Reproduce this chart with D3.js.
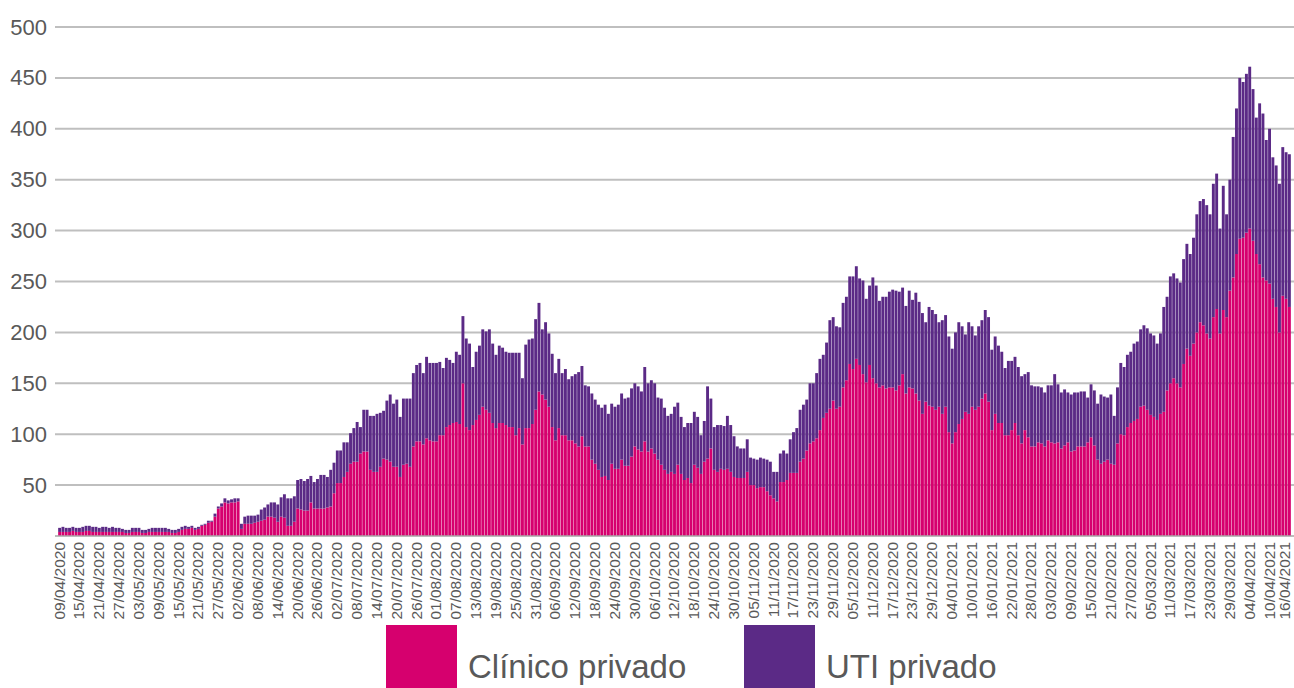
<!DOCTYPE html>
<html>
<head>
<meta charset="utf-8">
<script src="https://cdn.jsdelivr.net/npm/d3@7"></script>
<style>
  html, body { margin: 0; padding: 0; background: #ffffff; }
  svg { display: block; font-family: "Liberation Sans", Arial, sans-serif; }
</style>
</head>
<body>
<svg id="chart" width="1294" height="688"></svg>
<script>
// ---- DATA ----
const firstDay = "09/04/2020";
const dayCount = 373;

const clinicoPrivado = [
  4,4,4,4,5,4,4,4,5,5,4,4,4,4,4,4,4,4,4,4,3,3,4,4,4,3,3,4,4,4,4,4,4,4,3,3,4,6,7,7,8,6,7,
  10,11,13,14,19,27,29,33,32,33,33,34,7,12,12,12,13,14,15,16,19,19,18,14,19,18,10,10,14,27,26,25,
  25,33,27,27,27,27,28,29,42,52,52,58,63,71,73,73,81,83,83,65,63,63,68,76,75,73,68,68,58,70,71,68,88,
  93,93,90,96,94,93,93,99,99,107,109,111,112,110,150,107,104,109,114,119,127,124,121,111,106,111,111,109,107,107,99,
  106,90,106,106,110,124,142,139,134,127,107,94,106,99,99,94,94,91,88,98,88,88,75,71,65,58,59,55,71,66,66,75,
  69,69,78,88,85,83,93,83,86,81,75,70,65,61,63,61,70,61,55,57,52,70,67,61,73,76,86,65,63,66,65,
  66,63,58,57,57,57,63,50,50,47,48,48,44,40,37,34,53,53,55,62,62,62,73,76,84,91,93,96,104,116,121,125,
  133,125,127,146,153,169,164,174,168,159,151,168,155,150,146,148,145,146,146,143,148,159,140,146,145,140,133,120,132,128,127,124,127,
  120,127,102,91,102,110,115,122,120,127,124,127,135,140,132,104,120,111,111,99,99,104,111,99,91,104,97,88,88,92,
  91,88,94,92,91,92,86,89,92,83,84,88,88,88,92,97,89,75,71,73,75,71,70,91,100,99,107,111,113,115,127,128,
  124,119,117,114,120,122,143,150,155,150,146,169,184,177,189,200,210,207,199,194,
  215,223,199,222,215,241,254,277,292,293,298,302,290,277,267,254,251,248,233,225,200,236,233,225
];

const utiPrivado = [
  4,5,4,4,4,4,4,5,5,5,5,5,4,5,5,4,5,4,4,3,3,3,4,4,4,3,3,3,4,4,4,4,4,3,3,3,3,3,3,2,2,2,2,
  1,1,2,1,3,2,3,4,3,3,4,3,5,7,8,8,7,7,11,12,12,14,15,17,19,23,27,27,25,28,30,29,
  31,26,26,29,33,33,30,36,30,32,32,34,29,30,33,39,26,41,41,53,55,57,53,47,58,66,62,66,59,65,64,67,72,
  75,77,70,80,76,77,77,72,66,68,64,59,69,68,66,87,85,57,67,68,76,77,82,78,72,76,74,72,73,73,81,
  74,65,82,87,84,89,87,64,76,72,72,66,68,61,65,60,63,68,73,69,60,59,65,63,64,68,70,65,59,61,63,65,
  66,67,67,62,62,59,73,67,67,69,61,65,61,57,57,66,61,56,52,54,59,52,50,38,40,71,49,42,46,43,43,
  52,46,40,31,29,29,32,27,26,28,29,28,31,33,26,29,28,31,26,33,40,44,51,53,50,59,57,64,70,62,69,87,
  82,81,78,83,82,86,91,91,85,92,82,78,99,96,85,87,90,94,96,98,92,85,86,95,87,99,97,99,78,97,95,94,83,
  92,90,94,93,98,100,91,76,90,79,73,79,77,82,83,79,76,76,70,66,73,68,65,67,66,55,64,60,59,55,
  55,53,54,56,68,57,55,55,49,56,57,53,54,54,44,52,54,55,68,64,61,68,48,55,70,67,71,70,76,76,76,79,
  80,80,80,75,79,103,92,105,103,103,103,103,103,100,104,116,119,124,126,122,
  131,133,103,122,101,109,138,143,158,153,156,159,149,134,158,161,138,152,139,139,146,146,144,150
];

const xTickLabels = [
  "09/04/2020","15/04/2020","21/04/2020","27/04/2020","03/05/2020","09/05/2020","15/05/2020",
  "21/05/2020","27/05/2020","02/06/2020","08/06/2020","14/06/2020","20/06/2020","26/06/2020",
  "02/07/2020","08/07/2020","14/07/2020","20/07/2020","26/07/2020","01/08/2020","07/08/2020",
  "13/08/2020","19/08/2020","25/08/2020","31/08/2020","06/09/2020","12/09/2020","18/09/2020",
  "24/09/2020","30/09/2020","06/10/2020","12/10/2020","18/10/2020","24/10/2020","30/10/2020",
  "05/11/2020","11/11/2020","17/11/2020","23/11/2020","29/11/2020","05/12/2020","11/12/2020",
  "17/12/2020","23/12/2020","29/12/2020","04/01/2021","10/01/2021","16/01/2021","22/01/2021",
  "28/01/2021","03/02/2021","09/02/2021","15/02/2021","21/02/2021","27/02/2021","05/03/2021",
  "11/03/2021","17/03/2021","23/03/2021","29/03/2021","04/04/2021","10/04/2021","16/04/2021"
];
const yTickValues = [50,100,150,200,250,300,350,400,450,500];

const seriesNames = ["Clínico privado", "UTI privado"];
const seriesColors = ["#d6006e", "#5b2a86"];

// ---- BUILD ----
const fmt = d3.timeFormat("%d/%m/%Y");
const parse = d3.timeParse("%d/%m/%Y");
const start = parse(firstDay);
const dates = d3.range(dayCount).map(i => fmt(d3.timeDay.offset(start, i)));

const rows = dates.map((d, i) => ({ date: d, clinico: clinicoPrivado[i], uti: utiPrivado[i] }));
const stack = d3.stack().keys(["clinico", "uti"])(rows);

const svg = d3.select("#chart");
const margin = { left: 58, right: 1291, top: 27, bottom: 536 };

const x = d3.scaleBand().domain(dates).range([margin.left, margin.right]).paddingInner(0.12).paddingOuter(0.05);
const y = d3.scaleLinear().domain([0, 500]).range([margin.bottom, margin.top]);

// gridlines
svg.append("g")
  .selectAll("line")
  .data(yTickValues)
  .join("line")
  .attr("x1", 55).attr("x2", 1294)
  .attr("y1", d => y(d)).attr("y2", d => y(d))
  .attr("stroke", "#bfbfbf").attr("stroke-width", 2);

// y axis labels
const yAxis = d3.axisLeft(y).tickValues(yTickValues).tickSize(0).tickPadding(0);
const gy = svg.append("g").attr("transform", "translate(47,0)").call(yAxis);
gy.select(".domain").remove();
gy.selectAll("text")
  .attr("fill", "#595959")
  .style("font-size", "22px")
  .style("font-family", "'Liberation Sans', Arial, sans-serif");

// bars
svg.append("g")
  .selectAll("g")
  .data(stack)
  .join("g")
  .attr("fill", (d, i) => seriesColors[i])
  .selectAll("rect")
  .data(d => d)
  .join("rect")
  .attr("x", d => x(d.data.date))
  .attr("width", x.bandwidth())
  .attr("y", d => y(d[1]))
  .attr("height", d => y(d[0]) - y(d[1]));

// x axis
const xAxis = d3.axisBottom(x).tickValues(xTickLabels).tickSize(0).tickPadding(0);
const gx = svg.append("g").attr("transform", `translate(0,${margin.bottom})`).call(xAxis);
gx.select(".domain").attr("stroke", "#a6a6a6").attr("stroke-width", 1.5)
  .attr("d", `M55,0H1294`);
gx.selectAll(".tick").attr("transform", function () {
  const t = d3.select(this).attr("transform");
  const m = /translate\(([-\d.]+)/.exec(t);
  const px = m ? Math.min(+m[1], 1285) : 0;
  return `translate(${px},0)`;
});
gx.selectAll("text")
  .attr("fill", "#595959")
  .style("font-size", "15.5px")
  .style("font-family", "'Liberation Sans', Arial, sans-serif")
  .attr("text-anchor", "end")
  .attr("transform", "rotate(-90)")
  .attr("x", -6)
  .attr("y", 0)
  .attr("dy", "0.32em");

// legend
const legend = svg.append("g");
const legendItems = [
  { name: seriesNames[0], color: seriesColors[0], x: 386 },
  { name: seriesNames[1], color: seriesColors[1], x: 744 }
];
legendItems.forEach(it => {
  legend.append("rect").attr("x", it.x).attr("y", 625).attr("width", 71).attr("height", 63).attr("fill", it.color);
  legend.append("text").attr("x", it.x + 82).attr("y", 678)
    .attr("fill", "#595959")
    .style("font-size", "33px")
    .style("font-family", "'Liberation Sans', Arial, sans-serif")
    .text(it.name);
});
</script>
</body>
</html>
